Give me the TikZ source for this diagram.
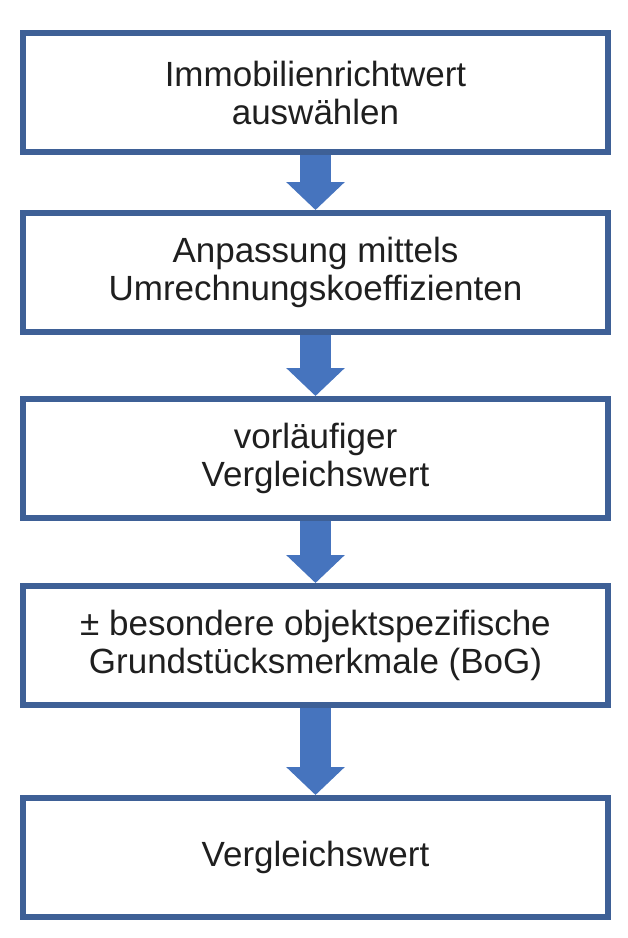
\documentclass[tikz,border=0pt]{standalone}
\usepackage{fontspec}
\setmainfont{Liberation Sans}
\usepackage{xcolor}
\usetikzlibrary{positioning,arrows.meta}
\definecolor{boxblue}{RGB}{62,96,150}
\definecolor{arrowblue}{RGB}{70,116,190}
\tikzset{%
stepbox/.style={draw=boxblue,line width=6pt,rectangle,minimum width=585pt,minimum height=119pt,align=center,font=\fontsize{35}{38}\selectfont,text=black!88},
blockarrow/.style={draw=arrowblue,line width=31pt,-{Triangle[width=57pt,length=28pt]}}
}
\begin{document}
\begin{tikzpicture}[x=1pt,y=1pt]

  \useasboundingbox (0,0) rectangle (628,-938);

  \node[stepbox] (select) at (315.5,-92.5) {Immobilienrichtwert\\auswählen};
  \node[stepbox,below=55pt of select] (adjust) {Anpassung mittels\\Umrechnungskoeffizienten};
  \node[stepbox,below=61pt of adjust] (prelim) {vorläufiger\\Vergleichswert};
  \node[stepbox,below=62pt of prelim] (bog) {± besondere objektspezifische\\Grundstücksmerkmale (BoG)};
  \node[stepbox,below=87pt of bog] (final) {Vergleichswert};

  \draw[blockarrow] (select.south) -- (adjust.north);
  \draw[blockarrow] (adjust.south) -- (prelim.north);
  \draw[blockarrow] (prelim.south) -- (bog.north);
  \draw[blockarrow] (bog.south) -- (final.north);

\end{tikzpicture}
\end{document}
